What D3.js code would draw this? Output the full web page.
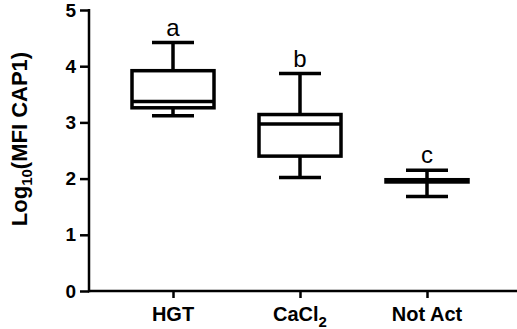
<!DOCTYPE html>
<html>
  <head>
    <meta charset="utf-8">
    <script src="https://d3js.org/d3.v7.min.js"></script>
    <style>
      body { margin: 0; background: #fff; }
      text { font-family: "Liberation Sans", Arial, sans-serif; }
    </style>
  </head>
  <body>
    <script>
      // box plot values
      var groups = ["HGT", "CaCl2", "Not Act"];
      var whiskerLow = [3.12, 2.02, 1.68];
      var q1 = [3.26, 2.40, 1.94];
      var median = [3.37, 2.97, 1.96];
      var q3 = [3.92, 3.14, 1.98];
      var whiskerHigh = [4.42, 3.87, 2.15];
      var letters = ["a", "b", "c"];
      var yTicks = [0, 1, 2, 3, 4, 5];

      var width = 517, height = 329;

      var svg = d3.select("body")
        .append("svg")
          .attr("width", width)
          .attr("height", height);

      var y = d3.scaleLinear().domain([0, 5]).range([291, 10]);
      var x = d3.scalePoint().domain(groups).range([173, 427]);

      var boxW = 82, capW = 42, lw = 3.5;

      // y axis
      var yAxis = svg.append("g")
          .attr("transform", "translate(89,0)")
          .call(d3.axisLeft(y).tickValues(yTicks).tickSize(9).tickPadding(4).tickFormat(d3.format("d")));
      yAxis.select(".domain").remove();
      yAxis.append("line")
          .attr("x1", 0).attr("x2", 0)
          .attr("y1", y(5) - 1).attr("y2", y(0) + 1.25)
          .attr("stroke", "#000").attr("stroke-width", 2.5);
      yAxis.selectAll(".tick line").attr("stroke-width", 2.5);
      yAxis.selectAll(".tick text")
          .attr("font-size", 19)
          .attr("font-weight", "bold")
          .attr("font-family", "Liberation Sans, Arial, sans-serif")
          .attr("fill", "#000");

      // x axis
      var xAxis = svg.append("g")
          .attr("transform", "translate(0," + y(0) + ")")
          .call(d3.axisBottom(x).tickSize(7).tickFormat(""));
      xAxis.select(".domain").remove();
      xAxis.append("line")
          .attr("x1", 88).attr("x2", width)
          .attr("y1", 0).attr("y2", 0)
          .attr("stroke", "#000").attr("stroke-width", 2.5);
      xAxis.selectAll(".tick line").attr("stroke-width", 2.5);

      // category labels (CaCl2 with subscript)
      var xl = svg.append("g");
      groups.forEach(function (g) {
        var t = xl.append("text")
            .attr("x", x(g))
            .attr("y", 321)
            .attr("text-anchor", "middle")
            .attr("font-size", 20)
            .attr("font-weight", "bold");
        if (g === "CaCl2") {
          t.append("tspan").text("CaCl");
          t.append("tspan").attr("dy", 6).attr("font-size", 15).text("2");
        } else {
          t.text(g);
        }
      });

      // axis title
      var title = svg.append("text")
          .attr("transform", "translate(27,139) rotate(-90)")
          .attr("text-anchor", "middle")
          .attr("font-size", 22)
          .attr("font-weight", "bold");
      title.append("tspan").text("Log");
      title.append("tspan").attr("dy", 5).attr("font-size", 15).text("10");
      title.append("tspan").attr("dy", -5).text("(MFI CAP1)");

      // boxes
      var boxes = svg.selectAll("g.box")
        .data(groups)
        .enter()
        .append("g")
          .attr("class", "box")
          .attr("fill", "none")
          .attr("stroke", "#000")
          .attr("stroke-width", lw);

      boxes.append("line")
          .attr("x1", function (d) { return x(d); })
          .attr("x2", function (d) { return x(d); })
          .attr("y1", function (d, i) { return y(whiskerHigh[i]); })
          .attr("y2", function (d, i) { return y(whiskerLow[i]); });

      boxes.append("rect")
          .attr("x", function (d) { return x(d) - boxW / 2; })
          .attr("y", function (d, i) { return y(q3[i]); })
          .attr("width", boxW)
          .attr("height", function (d, i) { return y(q1[i]) - y(q3[i]); })
          .attr("fill", "#fff");

      boxes.append("line")
          .attr("x1", function (d) { return x(d) - boxW / 2; })
          .attr("x2", function (d) { return x(d) + boxW / 2; })
          .attr("y1", function (d, i) { return y(median[i]); })
          .attr("y2", function (d, i) { return y(median[i]); });

      [whiskerHigh, whiskerLow].forEach(function (arr) {
        boxes.append("line")
            .attr("x1", function (d) { return x(d) - capW / 2; })
            .attr("x2", function (d) { return x(d) + capW / 2; })
            .attr("y1", function (d, i) { return y(arr[i]); })
            .attr("y2", function (d, i) { return y(arr[i]); });
      });

      // significance letters
      svg.selectAll("text.letter")
        .data(groups)
        .enter()
        .append("text")
          .attr("class", "letter")
          .attr("x", function (d) { return x(d); })
          .attr("y", function (d, i) { return y(whiskerHigh[i]) - 7; })
          .attr("text-anchor", "middle")
          .attr("font-family", "Open Sans, sans-serif")
          .attr("font-size", 24)
          .text(function (d, i) { return letters[i]; });
    </script>
  </body>
</html>
